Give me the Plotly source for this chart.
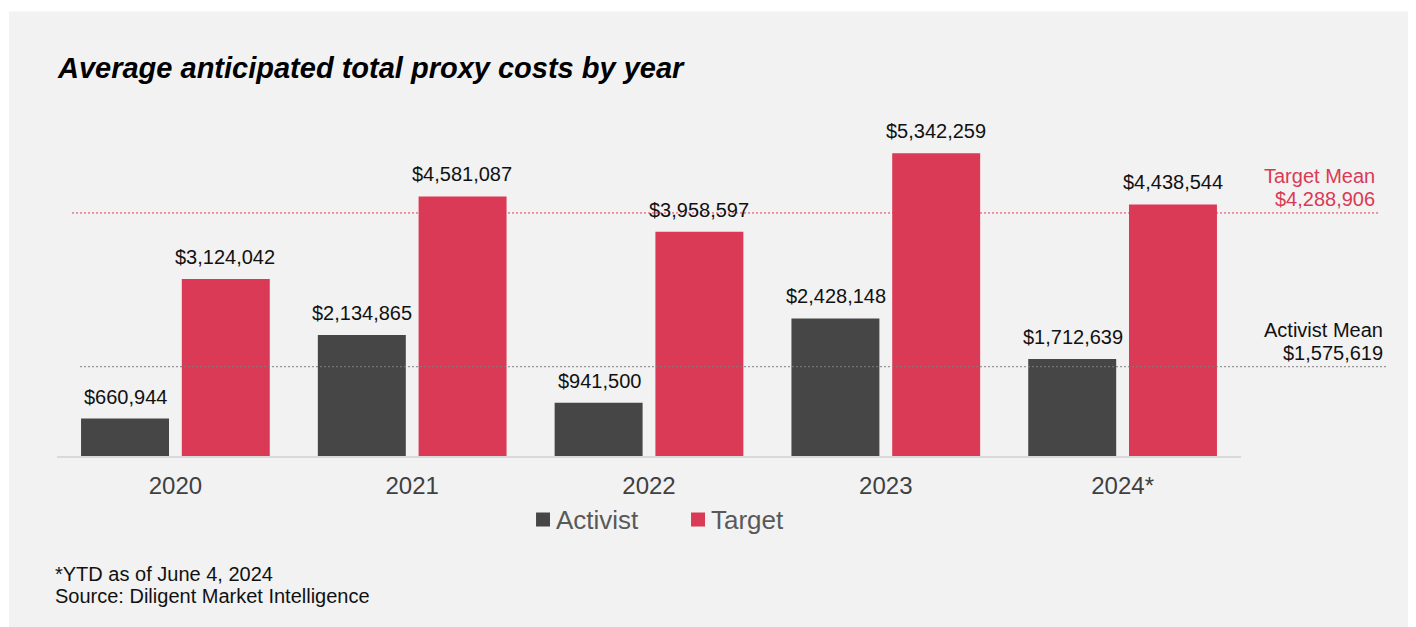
import plotly.graph_objects as go

# ── Données ───────────────────────────────────────────────────────────────────
YEARS = ["2020", "2021", "2022", "2023", "2024*"]
ACTIVIST = [660944, 2134865, 941500, 2428148, 1712639]
TARGET = [3124042, 4581087, 3958597, 5342259, 4438544]
ACTIVIST_MEAN = 1575619
TARGET_MEAN = 4288906

# ── Palette ───────────────────────────────────────────────────────────────────
_DARK = "#464646"
_RED = "#DA3A55"
_PANEL = "#F2F2F2"
_AXIS = "#D9D9D9"
_TICK = "#404040"
_LEGEND = "#595959"
_FONT = "Liberation Sans, Arial, sans-serif"


def money(v):
    return "${:,.0f}".format(v)


def text(x, y, s, size, color, xanchor="left", yanchor="middle", **kw):
    return dict(x=x, y=y, xref="paper", yref="paper", text=s, showarrow=False,
                xanchor=xanchor, yanchor=yanchor,
                font=dict(size=size, color=color, family=_FONT), **kw)


fig = go.Figure()

fig.add_trace(go.Bar(
    x=YEARS, y=ACTIVIST, name="Activist",
    marker=dict(color=_DARK, line=dict(width=0)),
))
fig.add_trace(go.Bar(
    x=YEARS, y=TARGET, name="Target",
    marker=dict(color=_RED, line=dict(width=0)),
))

# étiquettes de valeurs au-dessus des barres (x = index de catégorie)
annotations = []
for i, (a, t) in enumerate(zip(ACTIVIST, TARGET)):
    for val, shift in ((a, -50), (t, 50)):
        annotations.append(dict(
            x=i, y=val, xref="x", yref="y", text=money(val),
            showarrow=False, xanchor="center", yanchor="bottom",
            xshift=shift, yshift=9,
            font=dict(size=20, color="#111111", family=_FONT),
        ))

# fond + lignes de moyenne + légende maison
shapes = [
    dict(type="rect", xref="paper", yref="paper", x0=-0.0405, x1=1.2,
         y0=-0.6, y1=1.307, fillcolor=_PANEL, line=dict(width=0), layer="below"),
    dict(type="line", xref="paper", yref="y", x0=0.0127, x1=1.117,
         y0=TARGET_MEAN, y1=TARGET_MEAN, line=dict(color=_RED, width=1, dash="2px,2px")),
    dict(type="line", xref="paper", yref="y", x0=0.0194, x1=1.124,
         y0=ACTIVIST_MEAN, y1=ACTIVIST_MEAN, line=dict(color="#7F7F7F", width=1, dash="2px,2px")),
    dict(type="rect", xref="paper", yref="paper", x0=0.4046, x1=0.4164,
         y0=-0.2074, y1=-0.1662, fillcolor=_DARK, line=dict(width=0)),
    dict(type="rect", xref="paper", yref="paper", x0=0.5355, x1=0.5473,
         y0=-0.2074, y1=-0.1662, fillcolor=_RED, line=dict(width=0)),
]

annotations += [
    dict(x=1.115, y=TARGET_MEAN, xref="paper", yref="y", text=money(TARGET_MEAN),
         showarrow=False, xanchor="right", yanchor="bottom", yshift=1,
         font=dict(size=20, color=_RED, family=_FONT)),
    dict(x=1.115, y=TARGET_MEAN, xref="paper", yref="y", text="Target Mean",
         showarrow=False, xanchor="right", yanchor="bottom", yshift=24,
         font=dict(size=20, color=_RED, family=_FONT)),
    dict(x=1.1216, y=ACTIVIST_MEAN, xref="paper", yref="y", text=money(ACTIVIST_MEAN),
         showarrow=False, xanchor="right", yanchor="bottom", yshift=1,
         font=dict(size=20, color="#111111", family=_FONT)),
    dict(x=1.1216, y=ACTIVIST_MEAN, xref="paper", yref="y", text="Activist Mean",
         showarrow=False, xanchor="right", yanchor="bottom", yshift=24,
         font=dict(size=20, color="#111111", family=_FONT)),
    text(-0.002, 1.14, "<b><i>Average anticipated total proxy costs by year</i></b>",
         29, "#000000"),
    text(-0.003, -0.3456, "*YTD as of June 4, 2024", 20, "#111111"),
    text(-0.003, -0.4132, "Source: Diligent Market Intelligence", 20, "#111111"),
    text(0.4198, -0.1868, "Activist", 26, _LEGEND),
    text(0.5507, -0.1868, "Target", 26, _LEGEND),
]

fig.update_layout(
    width=1408, height=619,
    margin=dict(l=49, r=175, t=108, b=171),
    paper_bgcolor="white",
    plot_bgcolor="rgba(0,0,0,0)",
    barmode="group",
    bargap=0.149,
    bargroupgap=0.127,
    showlegend=False,
    xaxis=dict(
        type="category", range=[-0.5, len(YEARS) - 0.5],
        showline=True, linecolor=_AXIS, linewidth=2, showgrid=False,
        ticks="", tickfont=dict(size=24, color=_TICK, family=_FONT),
        ticklabelstandoff=7,
    ),
    yaxis=dict(
        range=[0, 6000000], visible=False, showgrid=False, zeroline=False,
    ),
    shapes=shapes,
    annotations=annotations,
)

fig.write_html("out.html")
